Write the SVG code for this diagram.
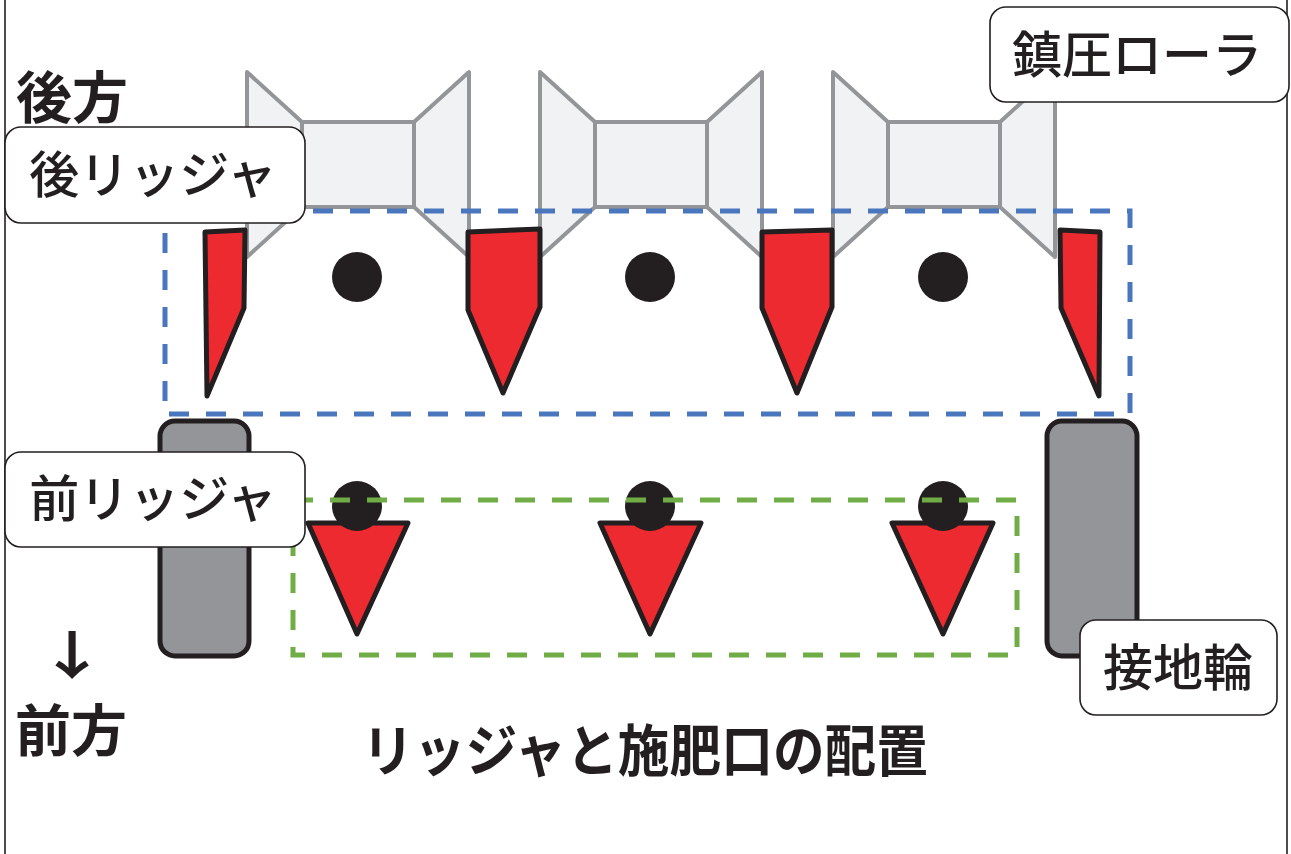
<svg xmlns="http://www.w3.org/2000/svg" width="1291" height="854" viewBox="0 0 1291 854">
  <style>
    .roller { fill: #f1f2f4; stroke: #939598; stroke-width: 4; stroke-linejoin: round; }
    .ridger { fill: #ed2a2f; stroke: #231f20; stroke-width: 5; stroke-linejoin: round; }
    .dot { fill: #231f20; }
    .wheel { fill: #939598; stroke: #231f20; stroke-width: 5; }
    .zone-rear { fill: none; stroke: #4a76be; stroke-width: 5; stroke-dasharray: 20 17; }
    .zone-front { fill: none; stroke: #70ad47; stroke-width: 5; stroke-dasharray: 20 17; }
    .label-box { fill: #ffffff; stroke: #231f20; stroke-width: 1.6; }
    .label { font-family: "Noto Sans CJK JP", "Noto Sans", sans-serif; font-size: 50px; font-weight: 500; fill: #231f20; text-anchor: middle; }
    .heading { font-family: "Noto Sans CJK JP", "Noto Sans", sans-serif; font-size: 56px; font-weight: 700; fill: #231f20; }
    .arrow { font-family: "Noto Sans CJK JP", "DejaVu Sans", sans-serif; font-size: 52px; font-weight: 700; fill: #231f20; text-anchor: middle; }
    .frame { stroke: #4d4d4f; stroke-width: 2; }
  </style>

  <rect width="1291" height="854" fill="#ffffff"/>
  <line class="frame" x1="5" y1="0" x2="5" y2="854"/>
  <line class="frame" x1="1287" y1="0" x2="1287" y2="854"/>

  <!-- packing rollers -->
  <g id="roller-1">
    <polygon class="roller" points="247,72 302,122 302,207 247,257"/>
    <rect class="roller" x="302" y="122" width="112" height="85"/>
    <polygon class="roller" points="414,122 469,72 469,257 414,207"/>
  </g>
  <g id="roller-2">
    <polygon class="roller" points="540,72 595,122 595,207 540,257"/>
    <rect class="roller" x="595" y="122" width="112" height="85"/>
    <polygon class="roller" points="707,122 762,72 762,257 707,207"/>
  </g>
  <g id="roller-3">
    <polygon class="roller" points="833,72 888,122 888,207 833,257"/>
    <rect class="roller" x="888" y="122" width="112" height="85"/>
    <polygon class="roller" points="1000,122 1055,72 1055,257 1000,207"/>
  </g>

  <!-- ground wheels -->
  <g id="wheel-left">
    <rect class="wheel" x="160" y="421" width="89" height="235" rx="15"/>
  </g>
  <g id="wheel-right">
    <rect class="wheel" x="1047" y="421" width="90" height="235" rx="15"/>
  </g>

  <!-- rear ridgers -->
  <g id="rear-ridgers">
    <polygon class="ridger" points="205,232 245,230 244,308 207,396"/>
    <polygon class="ridger" points="468,232 540,229 540,307 503,393 468,310"/>
    <polygon class="ridger" points="762,232 832,230 832,307 797,393 762,308"/>
    <polygon class="ridger" points="1060,230 1100,232 1099,396 1061,308"/>
  </g>

  <!-- rear fertilizer outlets -->
  <g id="rear-outlets">
    <circle class="dot" cx="357" cy="277" r="25"/>
    <circle class="dot" cx="650" cy="277" r="25"/>
    <circle class="dot" cx="943" cy="277" r="25"/>
  </g>

  <!-- front ridgers with outlets -->
  <g id="front-ridgers">
    <polygon class="ridger" points="308,523 408,523 357,634"/>
    <polygon class="ridger" points="600,523 701,523 650,634"/>
    <polygon class="ridger" points="892,523 993,523 943,634"/>
  </g>
  <g id="front-outlets">
    <circle class="dot" cx="357" cy="506" r="25"/>
    <circle class="dot" cx="650" cy="506" r="25"/>
    <circle class="dot" cx="943" cy="506" r="25"/>
  </g>

  <!-- grouping outlines -->
  <g id="zones">
    <rect class="zone-rear" x="165" y="211" width="965" height="203"/>
    <rect class="zone-front" x="293" y="500" width="724" height="155"/>
  </g>

  <g id="connectors"></g>

  <!-- callout labels -->
  <g id="label-rear-ridger">
    <rect class="label-box" x="5" y="127" width="300" height="96" rx="16"/>
    <text class="label" x="153" y="193">後リッジャ</text>
  </g>
  <g id="label-roller">
    <rect class="label-box" x="990" y="7" width="299" height="95" rx="16"/>
    <text class="label" x="1137" y="73">鎮圧ローラ</text>
  </g>
  <g id="label-front-ridger">
    <rect class="label-box" x="5" y="452" width="300" height="95" rx="16"/>
    <text class="label" x="153" y="517">前リッジャ</text>
  </g>
  <g id="label-wheel">
    <rect class="label-box" x="1080" y="620" width="197" height="95" rx="16"/>
    <text class="label" x="1178" y="686">接地輪</text>
  </g>

  <!-- direction markers and caption -->
  <g id="direction-rear">
    <text class="heading" x="16" y="118">後方</text>
  </g>
  <g id="direction-front">
    <text class="arrow" transform="translate(72,675) scale(1.35,1)">↓</text>
    <text class="heading" x="15" y="751">前方</text>
  </g>
  <g id="caption">
    <text class="heading" x="362" y="771" textLength="566" lengthAdjust="spacingAndGlyphs">リッジャと施肥口の配置</text>
  </g>
</svg>
